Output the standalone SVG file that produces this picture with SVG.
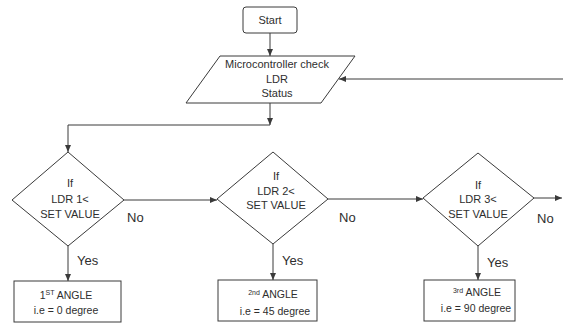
<svg xmlns="http://www.w3.org/2000/svg" width="563" height="329" viewBox="0 0 563 329">
<style>
.s{fill:#fff;stroke:#3a3a3a;stroke-width:1}
.c{fill:none;stroke:#3a3a3a;stroke-width:1}
text{font-family:"Liberation Sans",Arial,sans-serif;font-size:11px;fill:#2e2e2e}
.m{text-anchor:middle}
.l{font-size:13px}
.b{font-size:10.5px}
.sup{font-size:7px}
</style>
<defs>
<marker id="a" markerWidth="8" markerHeight="6" refX="7" refY="3" orient="auto" markerUnits="userSpaceOnUse">
<path d="M0,0 L7,3 L0,6 Z" fill="#3a3a3a"/>
</marker>
</defs>
<rect width="563" height="329" fill="#fff"/>
<g id="connectors">
<line class="c" x1="270" y1="33" x2="270" y2="56" marker-end="url(#a)"/>
<line class="c" x1="563" y1="79" x2="339" y2="79" marker-end="url(#a)"/>
<line class="c" x1="270" y1="103" x2="270" y2="125" marker-end="url(#a)"/>
<polyline class="c" points="270,125 68,125 68,152" marker-end="url(#a)"/>
<line class="c" x1="124" y1="200" x2="217" y2="200" marker-end="url(#a)"/>
<line class="c" x1="328" y1="199" x2="423" y2="199" marker-end="url(#a)"/>
<line class="c" x1="534" y1="198" x2="562" y2="198" marker-end="url(#a)"/>
<line class="c" x1="68" y1="246" x2="68" y2="281" marker-end="url(#a)"/>
<line class="c" x1="273" y1="244" x2="273" y2="280" marker-end="url(#a)"/>
<line class="c" x1="478" y1="246" x2="478" y2="280" marker-end="url(#a)"/>
<text class="l" x="127" y="222">No</text>
<text class="l" x="339" y="222">No</text>
<text class="l" x="537" y="223">No</text>
<text class="l" x="77" y="265">Yes</text>
<text class="l" x="282" y="265">Yes</text>
<text class="l" x="487" y="267">Yes</text>
</g>
<g id="start">
<rect class="s" x="243" y="7" width="54" height="26" rx="3"/>
<text class="m" x="270" y="24">Start</text>
</g>
<g id="check">
<polygon class="s" points="220,56 355,56 321,103 186,103"/>
<text class="m" x="277" y="68">Microcontroller check</text>
<text class="m" x="277" y="83">LDR</text>
<text class="m" x="277" y="97">Status</text>
</g>
<g id="d1">
<polygon class="s" points="68,152 124,200 68,246 12,200"/>
<text class="m" x="70" y="187">If</text>
<text class="m" x="70" y="203">LDR 1&lt;</text>
<text class="m" x="70" y="218">SET VALUE</text>
</g>
<g id="d2">
<polygon class="s" points="273,152 328,199 273,244 217,199"/>
<text class="m" x="276" y="180">If</text>
<text class="m" x="276" y="195">LDR 2&lt;</text>
<text class="m" x="276" y="209">SET VALUE</text>
</g>
<g id="d3">
<polygon class="s" points="478,153 534,198 478,246 423,198"/>
<text class="m" x="478" y="189">If</text>
<text class="m" x="478" y="203">LDR 3&lt;</text>
<text class="m" x="478" y="218">SET VALUE</text>
</g>
<g id="a1">
<rect class="s" x="14" y="281" width="107" height="41"/>
<text class="m b" x="66" y="299">1<tspan class="sup" dy="-4">ST</tspan><tspan dy="4"> ANGLE</tspan></text>
<text class="m b" x="66" y="314">i.e = 0 degree</text>
</g>
<g id="a2">
<rect class="s" x="218" y="280" width="99" height="41"/>
<text class="m b" x="273" y="298"><tspan class="sup" dy="-3">2nd</tspan><tspan dy="3"> ANGLE</tspan></text>
<text class="m b" x="275" y="315">i.e = 45 degree</text>
</g>
<g id="a3">
<rect class="s" x="424" y="280" width="91" height="41"/>
<text class="m b" x="477" y="296"><tspan class="sup" dy="-3">3rd</tspan><tspan dy="3"> ANGLE</tspan></text>
<text class="m b" x="476" y="312">i.e = 90 degree</text>
</g>
</svg>
